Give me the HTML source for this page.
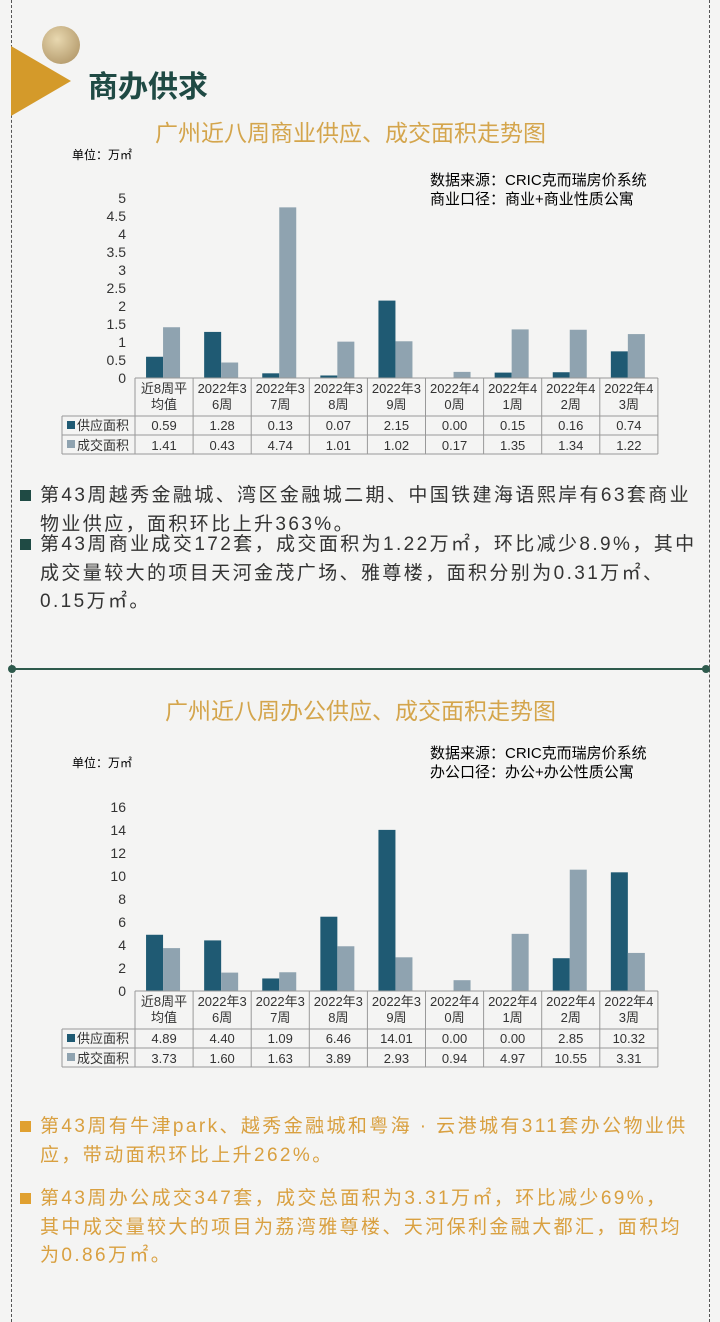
<!DOCTYPE html>
<html><head><meta charset="utf-8"><style>
body{margin:0;width:720px;height:1322px;background:#f4f4f3;position:relative;overflow:hidden;font-family:"Liberation Sans","Noto Sans CJK SC",sans-serif}
.abs{position:absolute}
.vl{position:absolute;top:0;height:1322px;border-left:1px dashed #555}
.t{position:absolute;white-space:nowrap}
.p{position:absolute;left:40px;font-size:19px;line-height:28.5px;white-space:nowrap;letter-spacing:2.4px}
.sq{position:absolute;left:20px;width:11px;height:11px}
</style></head><body>
<div class="vl" style="left:11px"></div>
<div class="vl" style="left:709px"></div>
<div class="abs" style="left:42px;top:26px;width:38px;height:38px;border-radius:50%;background:radial-gradient(circle at 40% 35%,#e8d8b0,#a88c5c)"></div>
<div class="abs" style="left:11px;top:46px;width:0;height:0;border-top:35px solid transparent;border-bottom:35px solid transparent;border-left:60px solid #d49a2a"></div>
<div class="t" style="left:88px;top:62px;font-size:30px;font-weight:bold;color:#1f4a44">商办供求</div>
<div class="t" style="left:155px;top:114px;font-size:23px;color:#d4a54c">广州近八周商业供应、成交面积走势图</div>
<div class="t" style="left:72px;top:146px;font-size:12px">单位：万㎡</div>
<div class="t" style="left:430px;top:171px;font-size:15px;line-height:19px">数据来源：CRIC克而瑞房价系统<br>商业口径：商业+商业性质公寓</div>
<svg id="c1" class="abs" style="left:0;top:180px" width="720" height="290"></svg>
<div class="sq" style="top:490px;background:#1f4a44"></div>
<div class="p" style="top:482px;color:#333">第43周越秀金融城、湾区金融城二期、中国铁建海语熙岸有63套商业<br>物业供应，面积环比上升363%。</div>
<div class="sq" style="top:539px;background:#1f4a44"></div>
<div class="p" style="top:531px;color:#333">第43周商业成交172套，成交面积为1.22万㎡，环比减少8.9%，其中<br>成交量较大的项目天河金茂广场、雅尊楼，面积分别为0.31万㎡、<br>0.15万㎡。</div>
<div class="abs" style="left:12px;top:668px;width:694px;height:2px;background:#2e5a4c"></div>
<div class="abs" style="left:8px;top:665px;width:8px;height:8px;border-radius:50%;background:#2e5a4c"></div>
<div class="abs" style="left:702px;top:665px;width:8px;height:8px;border-radius:50%;background:#2e5a4c"></div>
<div class="t" style="left:165px;top:692px;font-size:23px;color:#d4a54c">广州近八周办公供应、成交面积走势图</div>
<div class="t" style="left:72px;top:754px;font-size:12px">单位：万㎡</div>
<div class="t" style="left:430px;top:744px;font-size:15px;line-height:19px">数据来源：CRIC克而瑞房价系统<br>办公口径：办公+办公性质公寓</div>
<svg id="c2" class="abs" style="left:0;top:790px" width="720" height="290"></svg>
<div class="sq" style="top:1121px;background:#e0a030"></div>
<div class="p" style="top:1113px;color:#d9a040">第43周有牛津park、越秀金融城和粤海 · 云港城有311套办公物业供<br>应，带动面积环比上升262%。</div>
<div class="sq" style="top:1193px;background:#e0a030"></div>
<div class="p" style="top:1185px;color:#d9a040">第43周办公成交347套，成交总面积为3.31万㎡，环比减少69%，<br>其中成交量较大的项目为荔湾雅尊楼、天河保利金融大都汇，面积均<br>为0.86万㎡。</div>
<script>
const cats1=["近8周平|均值","2022年3|6周","2022年3|7周","2022年3|8周","2022年3|9周","2022年4|0周","2022年4|1周","2022年4|2周","2022年4|3周"];
const supply1=[0.59,1.28,0.13,0.07,2.15,0.00,0.15,0.16,0.74];
const deal1=[1.41,0.43,4.74,1.01,1.02,0.17,1.35,1.34,1.22];
const ticks1=[0,0.5,1,1.5,2,2.5,3,3.5,4,4.5,5];
const tickLabels1=["0","0.5","1","1.5","2","2.5","3","3.5","4","4.5","5"];
const supply2=[4.89,4.40,1.09,6.46,14.01,0.00,0.00,2.85,10.32];
const deal2=[3.73,1.60,1.63,3.89,2.93,0.94,4.97,10.55,3.31];
const ticks2=[0,2,4,6,8,10,12,14,16];
const tickLabels2=["0","2","4","6","8","10","12","14","16"];
const NS="http://www.w3.org/2000/svg";
function mk(svg,tag,at,txt){const e=document.createElementNS(NS,tag);for(const k in at)e.setAttribute(k,at[k]);if(txt!==undefined)e.textContent=txt;svg.appendChild(e);return e;}
function draw(id,cats,sup,dea,ticks,labels,y0,yTop,maxV){
 const svg=document.getElementById(id);
 const x0=135,cw=58.1,y=v=>y0-(v/maxV)*(y0-yTop);
 ticks.forEach((t,i)=>{const e=mk(svg,'text',{x:126,y:y(t)+5,'text-anchor':'end','font-size':14,fill:'#333'},labels[i]);
  
  });
 cats.forEach((c,i)=>{const cx=x0+cw*i+cw/2;
  const b1=mk(svg,'rect',{x:cx-18,y:y(sup[i]),width:17,height:y0-y(sup[i]),fill:'#1f5a73'});
  
  
  const b2=mk(svg,'rect',{x:cx-1,y:y(dea[i]),width:17,height:y0-y(dea[i]),fill:'#8fa3b0'});
  
  
  const p=c.split('|');
  const l1=mk(svg,'text',{x:cx,y:y0+15,'text-anchor':'middle','font-size':13,fill:'#333'},p[0]);
  
  
  const l2=mk(svg,'text',{x:cx,y:y0+31,'text-anchor':'middle','font-size':13,fill:'#333'},p[1]);
  
  
  const v1=mk(svg,'text',{x:cx,y:y0+52,'text-anchor':'middle','font-size':13,fill:'#333'},sup[i].toFixed(2));
  
  
  const v2=mk(svg,'text',{x:cx,y:y0+72,'text-anchor':'middle','font-size':13,fill:'#333'},dea[i].toFixed(2));
  
  
 });
 const xe=x0+cw*cats.length,st={stroke:'#999','stroke-width':1};
 mk(svg,'line',Object.assign({x1:x0,x2:xe,y1:y0,y2:y0},st));
 [y0+38,y0+57,y0+76].forEach(yy=>mk(svg,'line',Object.assign({x1:62,x2:xe,y1:yy,y2:yy},st)));
 for(let i=0;i<=cats.length;i++){const xx=x0+cw*i;mk(svg,'line',Object.assign({x1:xx,x2:xx,y1:y0,y2:y0+76},st));}
 mk(svg,'line',Object.assign({x1:62,x2:62,y1:y0+38,y2:y0+76},st));
 mk(svg,'rect',{x:67,y:y0+43,width:8,height:8,fill:'#1f5a73'});
 mk(svg,'rect',{x:67,y:y0+62,width:8,height:8,fill:'#8fa3b0'});
 const lg1=mk(svg,'text',{x:77,y:y0+52,'font-size':13,fill:'#333'},'供应面积');
 
 
 const lg2=mk(svg,'text',{x:77,y:y0+72,'font-size':13,fill:'#333'},'成交面积');
 
 
}
draw('c1',cats1,supply1,deal1,ticks1,tickLabels1,198,18,5);
draw('c2',cats1,supply2,deal2,ticks2,tickLabels2,201,17,16);
</script>
</body></html>
